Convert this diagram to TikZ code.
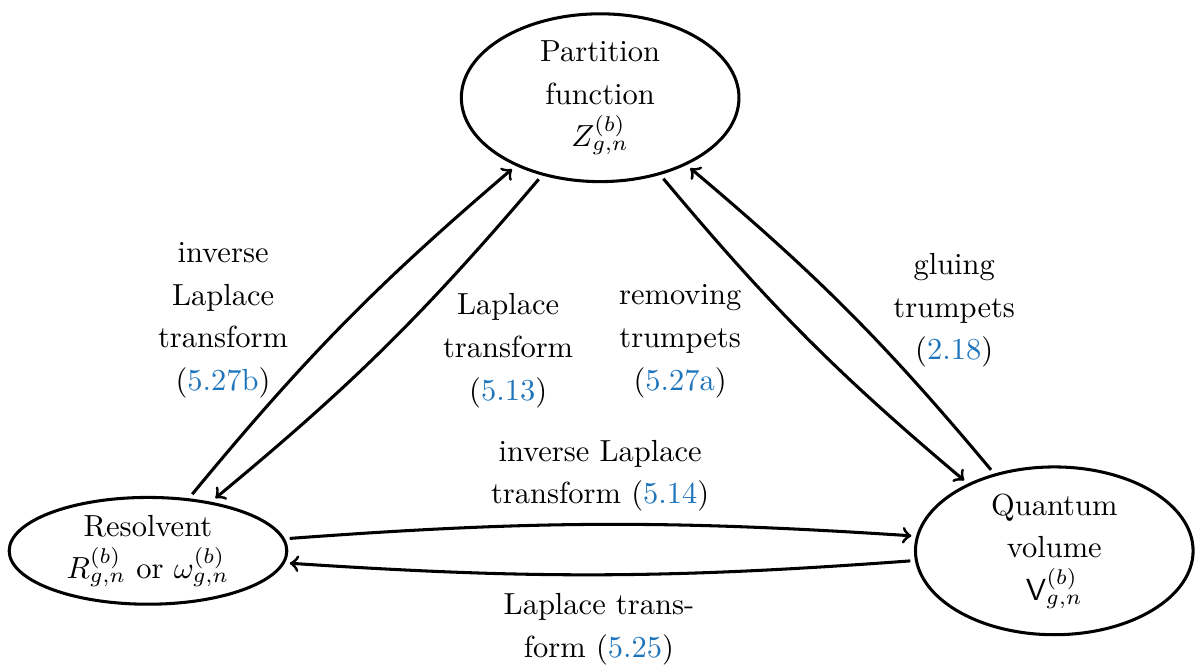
\documentclass[tikz,border=0pt]{standalone}
\usepackage{amsmath}
\usetikzlibrary{shapes.geometric}

\definecolor{refblue}{RGB}{31,117,187}
\newcommand{\refnum}[1]{(\textcolor{refblue}{#1})}

\tikzset{
  blob/.style={draw, ellipse, line width=1pt, inner sep=0pt, outer sep=2pt, align=center,
    minimum width=91pt, minimum height=55pt},
  lbl/.style={align=center},
  link/.style={->, line width=1pt},
}

\begin{document}
\begin{tikzpicture}[x=1cm, y=1cm, font=\fontsize{10pt}{14pt}\selectfont]
      \useasboundingbox (0,0) rectangle (13.79,7.66);
      %
      \node[blob] (Z) at (6.914,6.534) {Partition\\function\\$Z^{(b)}_{g,n}$};       % top
      \node[blob, minimum height=35pt] (R) at (1.705,1.314)
        {Resolvent\\$R^{(b)}_{g,n}$ or $\omega^{(b)}_{g,n}$};                       % left
      \node[blob] (V) at (12.146,1.314) {Quantum\\volume\\$\mathsf{V}^{(b)}_{g,n}$}; % right
      %
      \draw[link] (R.52) to[bend left=5] (Z.219);     % left side
      \draw[link] (Z.233) to[bend left=5] (R.38);
      %%
      \draw[link] (Z.308) to[bend right=5] (V.142);   % right side
      \draw[link] (V.128) to[bend right=5] (Z.322);
      %%
      \draw[link] (R.5) to[bend left=4] (V.174);      % bottom
      \draw[link] (V.184) to[bend left=4] (R.355);
      %
      \node[lbl] (invlap) at (2.570,3.970) {inverse\\Laplace\\transform\\\refnum{5.27b}};
      \node[lbl] (lap) at (5.854,3.618) {Laplace\\transform\\\refnum{5.13}};
      \node[lbl] (remove) at (7.836,3.728) {removing\\trumpets\\\refnum{5.27a}};
      \node[lbl] (glue) at (10.993,4.085) {gluing\\trumpets\\\refnum{2.18}};
      \node[lbl] (invlapb) at (6.914,2.178) {inverse Laplace\\transform \refnum{5.14}};
      \node[lbl] (lapb) at (6.900,0.409) {Laplace trans-\\form \refnum{5.25}};
      %
    \end{tikzpicture}
\end{document}
